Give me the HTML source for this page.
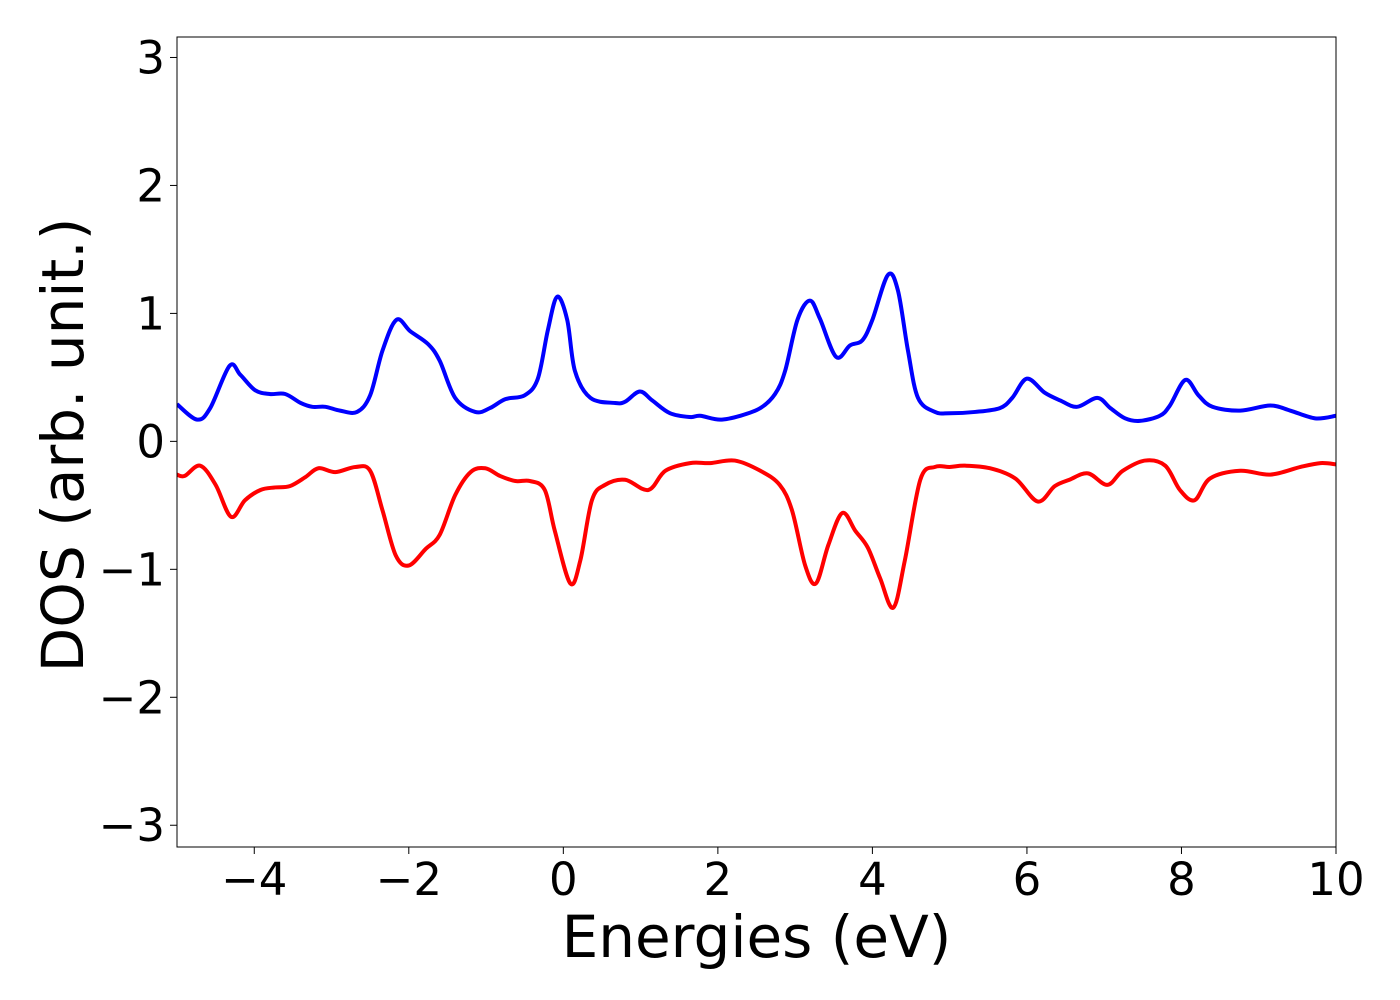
<!DOCTYPE html>
<html><head><meta charset="utf-8"><style>
html,body{margin:0;padding:0;background:#fff;}
svg{display:block;font-family:"DejaVu Sans","Liberation Sans",sans-serif;}
</style></head><body>
<svg id="chart" width="1400" height="1000" xmlns="http://www.w3.org/2000/svg">
<g id="plot"></g>
</svg>
<script>
const xTicks=[-4,-2,0,2,4,6,8,10];
const yTicks=[-3,-2,-1,0,1,2,3];
const upE=[-5,-4.74,-4.57,-4.32,-4.18,-3.99,-3.8,-3.6,-3.4,-3.25,-3.08,-2.89,-2.67,-2.5,-2.34,-2.16,-1.98,-1.75,-1.6,-1.4,-1.14,-0.95,-0.75,-0.5,-0.33,-0.2,-0.08,0.05,0.15,0.35,0.67,0.8,0.99,1.15,1.38,1.64,1.77,2.03,2.29,2.55,2.74,2.87,3.03,3.19,3.32,3.53,3.71,3.87,4.0,4.2,4.33,4.46,4.59,4.81,5.0,5.33,5.65,5.81,6.0,6.23,6.43,6.65,6.91,7.08,7.27,7.46,7.72,7.85,8.05,8.22,8.4,8.76,9.15,9.41,9.73,10];
const upV=[0.29,0.17,0.26,0.59,0.52,0.40,0.37,0.37,0.30,0.27,0.27,0.24,0.23,0.36,0.71,0.95,0.86,0.76,0.63,0.34,0.23,0.26,0.33,0.36,0.49,0.87,1.13,0.95,0.55,0.34,0.30,0.31,0.39,0.32,0.22,0.19,0.20,0.17,0.20,0.26,0.37,0.55,0.95,1.10,0.96,0.66,0.75,0.79,0.95,1.30,1.18,0.71,0.34,0.23,0.22,0.23,0.26,0.34,0.49,0.38,0.32,0.27,0.34,0.26,0.18,0.16,0.20,0.28,0.48,0.36,0.27,0.24,0.28,0.24,0.18,0.20];
const dnE=[-5,-4.9,-4.7,-4.5,-4.3,-4.12,-3.92,-3.73,-3.54,-3.34,-3.17,-2.95,-2.69,-2.5,-2.34,-2.17,-2.0,-1.78,-1.6,-1.4,-1.2,-1.01,-0.82,-0.62,-0.43,-0.24,-0.11,0.09,0.22,0.37,0.54,0.8,1.1,1.32,1.64,1.9,2.22,2.55,2.8,2.96,3.13,3.27,3.43,3.61,3.78,3.94,4.1,4.27,4.42,4.62,4.81,5.0,5.2,5.52,5.85,6.14,6.36,6.55,6.79,7.04,7.24,7.53,7.79,7.98,8.17,8.37,8.76,9.15,9.54,9.8,10];
const dnV=[-0.26,-0.27,-0.19,-0.34,-0.59,-0.46,-0.38,-0.36,-0.35,-0.28,-0.21,-0.24,-0.20,-0.23,-0.54,-0.89,-0.97,-0.84,-0.73,-0.42,-0.24,-0.21,-0.27,-0.31,-0.31,-0.38,-0.70,-1.11,-0.93,-0.46,-0.34,-0.30,-0.38,-0.23,-0.17,-0.17,-0.15,-0.23,-0.34,-0.54,-0.97,-1.11,-0.81,-0.56,-0.70,-0.83,-1.07,-1.30,-0.93,-0.30,-0.20,-0.20,-0.19,-0.21,-0.29,-0.47,-0.35,-0.30,-0.25,-0.34,-0.23,-0.15,-0.19,-0.38,-0.46,-0.29,-0.23,-0.26,-0.20,-0.17,-0.18];

const L=177,R=1336,T=37,B=847;
const xmin=-5,xmax=10,ymin=-3.17,ymax=3.16;
const sx=v=>L+(v-xmin)/(xmax-xmin)*(R-L);
const sy=v=>B-(v-ymin)/(ymax-ymin)*(B-T);
const NS="http://www.w3.org/2000/svg";
const g=document.getElementById('plot');
function mk(tag,attrs){const e=document.createElementNS(NS,tag);for(const k in attrs)e.setAttribute(k,attrs[k]);g.appendChild(e);return e;}

function pathFor(E,V){
  const p=E.map((e,i)=>[sx(e),sy(V[i])]);
  let d=`M${p[0][0]},${p[0][1]}`;
  for(let i=0;i<p.length-1;i++){
    const p0=p[i-1]||p[i],p1=p[i],p2=p[i+1],p3=p[i+2]||p[i+1];
    const c1=[p1[0]+(p2[0]-p0[0])/6,p1[1]+(p2[1]-p0[1])/6];
    const c2=[p2[0]-(p3[0]-p1[0])/6,p2[1]-(p3[1]-p1[1])/6];
    d+=` C${c1[0]},${c1[1]} ${c2[0]},${c2[1]} ${p2[0]},${p2[1]}`;
  }
  return d;
}
const cp=mk('clipPath',{id:'clip'});
const cr=document.createElementNS(NS,'rect');
cr.setAttribute('x',L);cr.setAttribute('y',T);cr.setAttribute('width',R-L);cr.setAttribute('height',B-T);
cp.appendChild(cr);

const up=mk('path',{d:pathFor(upE,upV),fill:'none',stroke:'#0000ff','stroke-width':4,'clip-path':'url(#clip)','stroke-linejoin':'round'});


const dn=mk('path',{d:pathFor(dnE,dnV),fill:'none',stroke:'#ff0000','stroke-width':4,'clip-path':'url(#clip)','stroke-linejoin':'round'});



const frame=mk('rect',{x:L,y:T,width:R-L,height:B-T,fill:'none',stroke:'#000','stroke-width':1});



xTicks.forEach(t=>{
  const x=sx(t);
  const tk=mk('line',{x1:x,x2:x,y1:B,y2:B+7,stroke:'#000','stroke-width':1});
  
  
  const tx=mk('text',{x:x,y:895,'font-size':45,'text-anchor':'middle',fill:'#000'});
  tx.textContent=(t<0?'\u2212':'')+Math.abs(t);
  
  
});
yTicks.forEach(t=>{
  const y=sy(t);
  const tk=mk('line',{x1:L-7,x2:L,y1:y,y2:y,stroke:'#000','stroke-width':1});
  
  
  const tx=mk('text',{x:165,y:y+16,'font-size':45,'text-anchor':'end',fill:'#000'});
  tx.textContent=(t<0?'\u2212':'')+Math.abs(t);
  
  
});
const xt=mk('text',{x:(L+R)/2,y:957,'font-size':58,'text-anchor':'middle',fill:'#000'});
xt.textContent='Energies (eV)';


const yt=mk('text',{x:0,y:0,'font-size':58,'text-anchor':'middle',fill:'#000',transform:`translate(83,${(T+B)/2+3}) rotate(-90)`});
yt.textContent='DOS (arb. unit.)';


</script>
</body></html>
